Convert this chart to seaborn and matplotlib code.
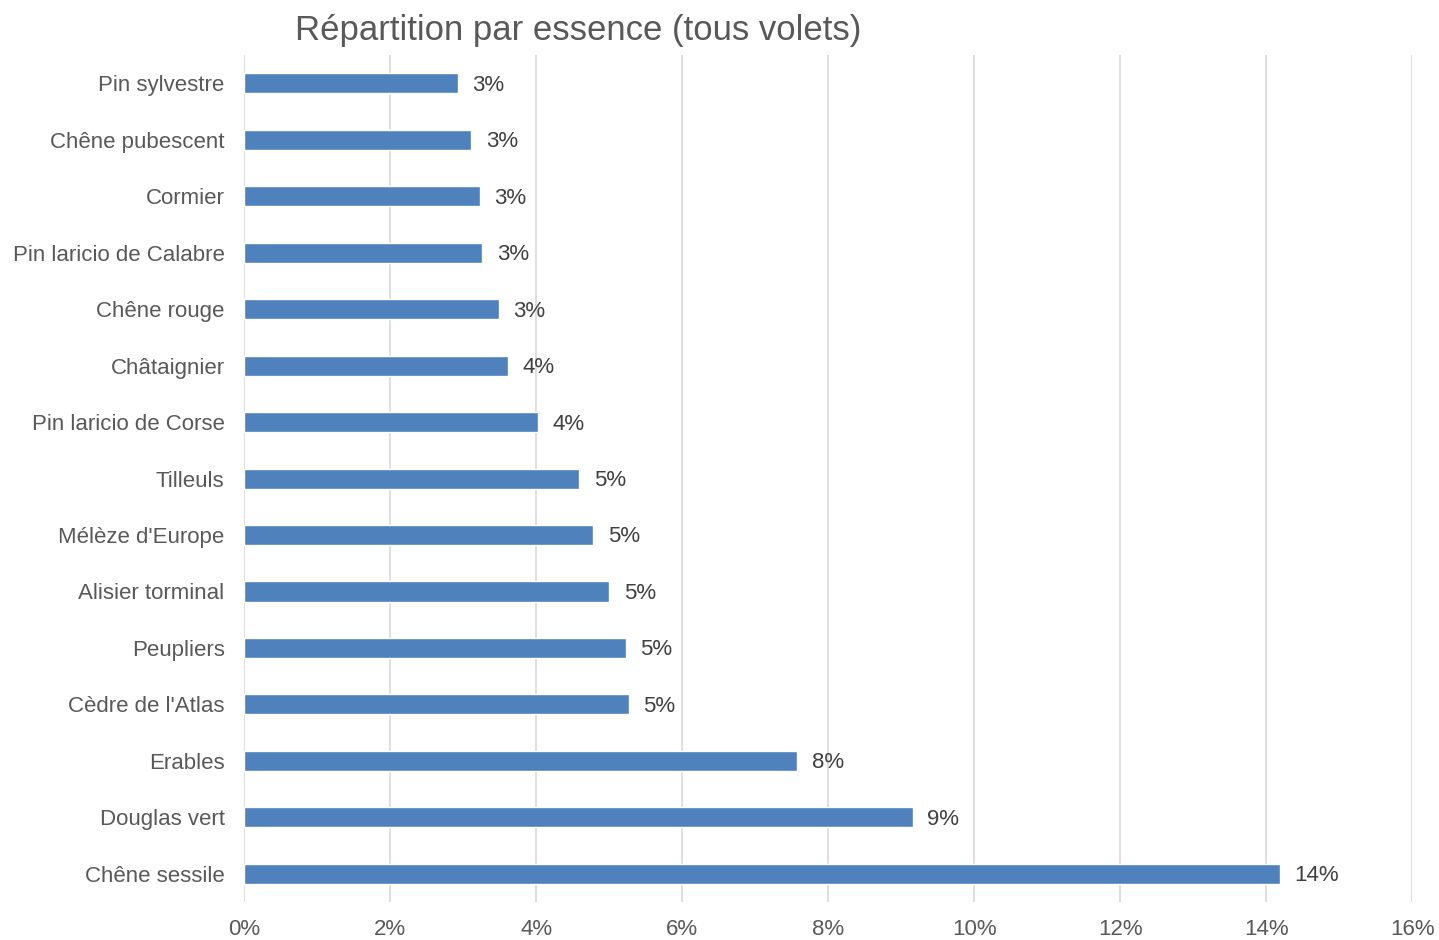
import pandas as pd
import seaborn as sns
import matplotlib.pyplot as plt
from matplotlib.ticker import PercentFormatter

essences = ["Pin sylvestre", "Chêne pubescent", "Cormier", "Pin laricio de Calabre",
            "Chêne rouge", "Châtaignier", "Pin laricio de Corse", "Tilleuls",
            "Mélèze d'Europe", "Alisier torminal", "Peupliers", "Cèdre de l'Atlas",
            "Erables", "Douglas vert", "Chêne sessile"]
parts = [2.93, 3.11, 3.23, 3.26, 3.49, 3.62, 4.03, 4.59,
         4.78, 5.00, 5.23, 5.27, 7.58, 9.16, 14.19]

df = pd.DataFrame({"Essence": essences, "Part": parts})

sns.set_style("white")
plt.rcParams["font.family"] = ["Liberation Sans", "DejaVu Sans"]

grey = "#595959"
fig = plt.figure(figsize=(14.39, 9.4), dpi=100)
ax = fig.add_axes([0.1696, 0.0404, 0.8117, 0.901])

sns.barplot(data=df, x="Part", y="Essence", orient="h", color="#4F81BD",
            width=0.355, saturation=1, ax=ax)

for i, v in enumerate(parts):
    ax.text(v + 0.2, i + 0.035, f"{round(v):.0f}%", va="center", ha="left",
            fontsize=16, color="#404040")

ax.set_xlim(0, 16)
ax.set_xticks(range(0, 17, 2))
ax.xaxis.set_major_formatter(PercentFormatter(decimals=0))
ax.set_ylim(14.5, -0.5)
ax.grid(axis="x", color="#D9D9D9", linewidth=1.2)
ax.set_axisbelow(True)
for s in ax.spines.values():
    s.set_visible(False)
ax.tick_params(axis="both", length=0, labelsize=16, labelcolor=grey)
ax.tick_params(axis="y", pad=14)
ax.tick_params(axis="x", pad=12)
ax.set_xlabel("")
ax.set_ylabel("")

fig.text(0.4017, 0.968, "Répartition par essence (tous volets)", ha="center",
         va="center", fontsize=25, color=grey)

plt.savefig("out.png")
